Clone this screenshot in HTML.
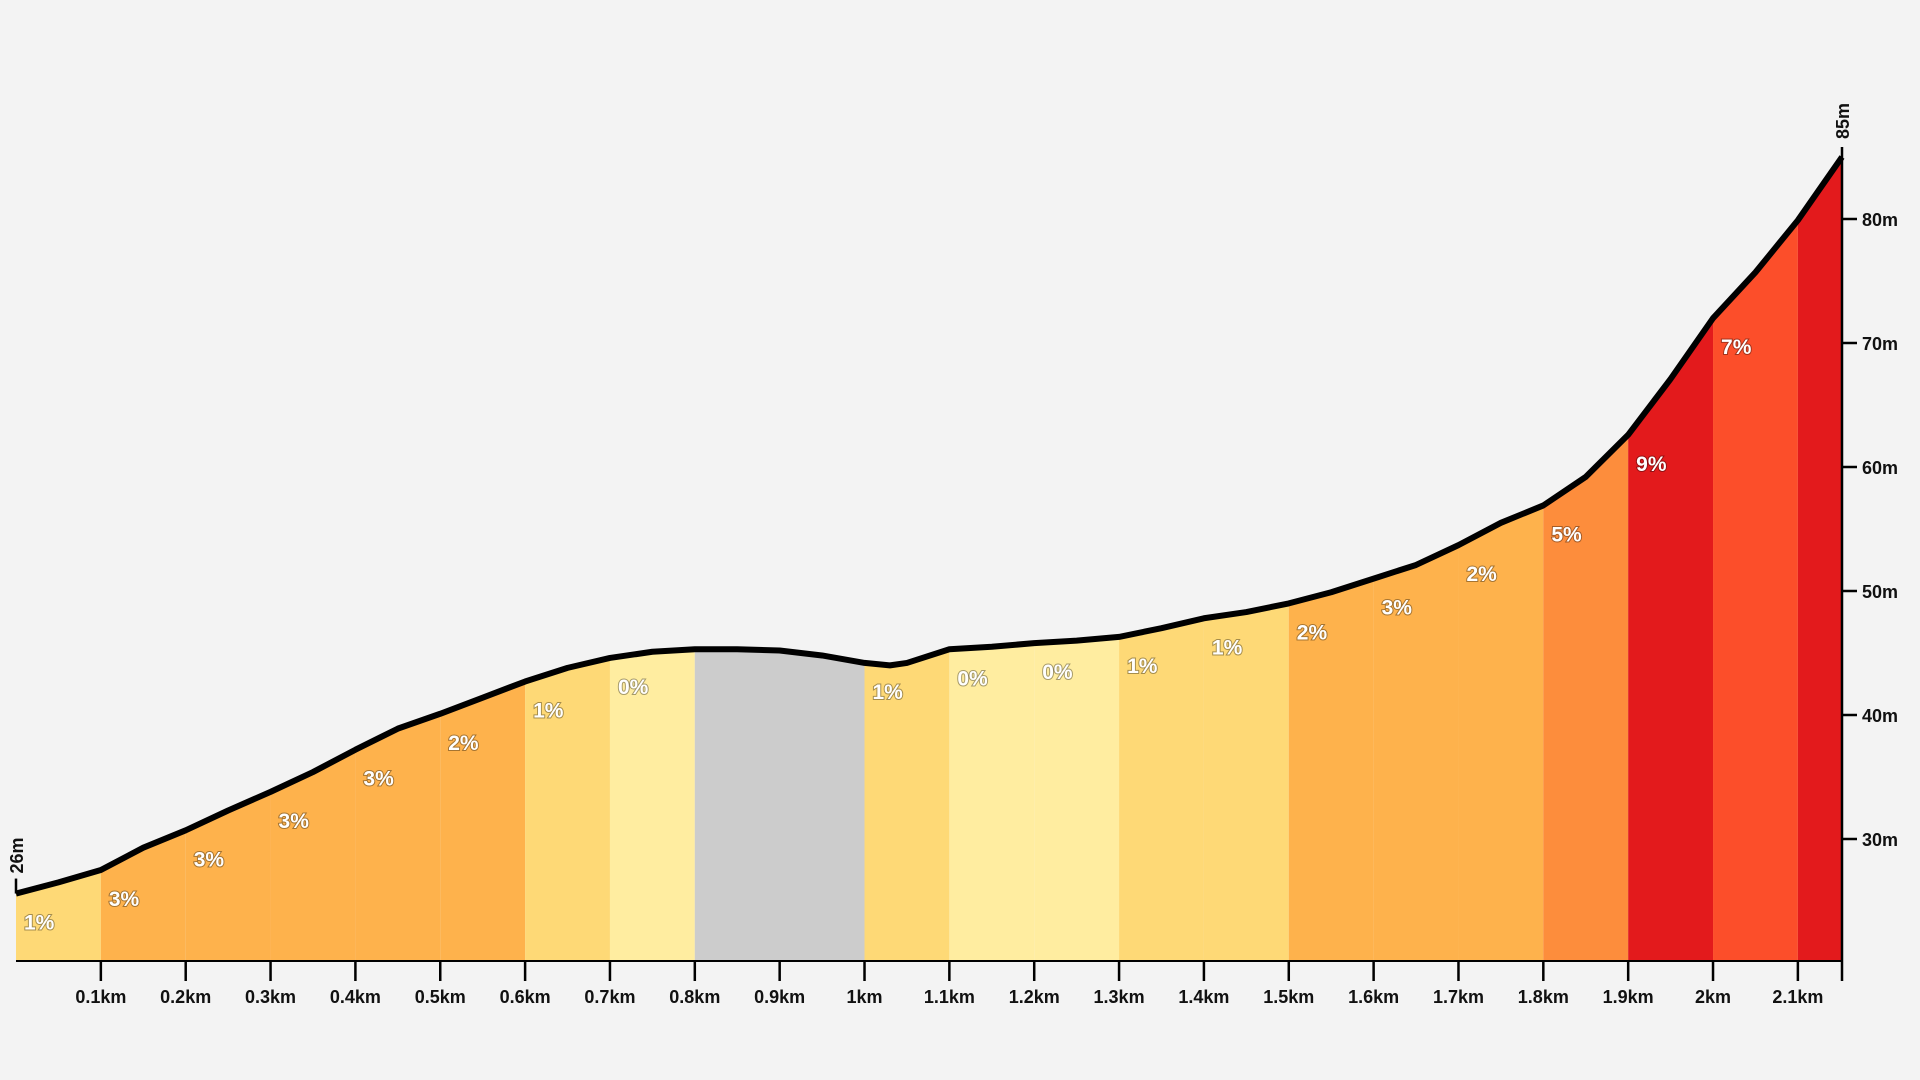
<!DOCTYPE html>
<html><head><meta charset="utf-8">
<style>
html,body{margin:0;padding:0;background:#f3f3f3;}
svg{display:block;font-family:"Liberation Sans",sans-serif;font-weight:bold;}
.lbl{fill:#fff;font-size:21px;paint-order:stroke;stroke:rgba(0,0,0,0.35);stroke-width:2px;}
.tk{fill:#111;font-size:18px;}
</style></head>
<body>
<svg id="chart" width="1920" height="1080" viewBox="0 0 1920 1080">
<g id="segs"></g>
<g id="line"></g>
<g id="labels"></g>
<g id="axes"></g>
</svg>
<script>
const distKm=[0,0.05,0.1,0.15,0.2,0.25,0.3,0.35,0.4,0.45,0.5,0.55,0.6,0.65,0.7,0.75,0.8,0.85,0.9,0.95,1.0,1.03,1.05,1.1,1.15,1.2,1.25,1.3,1.35,1.4,1.45,1.5,1.55,1.6,1.65,1.7,1.75,1.8,1.85,1.9,1.95,2.0,2.05,2.1,2.152];
const elevM=[25.6,26.5,27.5,29.3,30.7,32.3,33.8,35.4,37.2,38.9,40.1,41.4,42.7,43.8,44.6,45.1,45.3,45.3,45.2,44.8,44.2,44.0,44.2,45.3,45.5,45.8,46.0,46.3,47.0,47.8,48.3,49.0,49.9,51.0,52.1,53.7,55.5,56.9,59.2,62.6,67.1,72.0,75.7,79.9,85.0];
const segStart=[0,0.1,0.2,0.3,0.4,0.5,0.6,0.7,0.8,1.0,1.1,1.2,1.3,1.4,1.5,1.6,1.7,1.8,1.9,2.0,2.1];
const segEnd=[0.1,0.2,0.3,0.4,0.5,0.6,0.7,0.8,1.0,1.1,1.2,1.3,1.4,1.5,1.6,1.7,1.8,1.9,2.0,2.1,2.152];
const segGrade=["1%","3%","3%","3%","3%","2%","1%","0%","","1%","0%","0%","1%","1%","2%","3%","2%","5%","9%","7%",""];
const segColor=["#fed976","#feb24c","#feb24c","#feb24c","#feb24c","#feb24c","#fed976","#ffeda0","#cccccc","#fed976","#ffeda0","#ffeda0","#fed976","#fed976","#feb24c","#feb24c","#feb24c","#fd8d3c","#e31a1c","#fc4e2a","#e31a1c"];
const xTicks=[0.1,0.2,0.3,0.4,0.5,0.6,0.7,0.8,0.9,1,1.1,1.2,1.3,1.4,1.5,1.6,1.7,1.8,1.9,2,2.1];
const xTickLabels=["0.1km","0.2km","0.3km","0.4km","0.5km","0.6km","0.7km","0.8km","0.9km","1km","1.1km","1.2km","1.3km","1.4km","1.5km","1.6km","1.7km","1.8km","1.9km","2km","2.1km"];
const yTicks=[30,40,50,60,70,80];
const yTickLabels=["30m","40m","50m","60m","70m","80m"];

const NS="http://www.w3.org/2000/svg";
const X0=16,X1=1842,BASE=961;
const dMax=distKm[distKm.length-1];
function xs(d){return X0+(X1-X0)*d/dMax;}
function ys(e){return 219+(80-e)*12.4;}
function elevAt(d){
  for(let i=1;i<distKm.length;i++){
    if(d<=distKm[i]){const t=(d-distKm[i-1])/(distKm[i]-distKm[i-1]);return elevM[i-1]+t*(elevM[i]-elevM[i-1]);}
  }
  return elevM[elevM.length-1];
}
function mk(tag,attrs,parent){const e=document.createElementNS(NS,tag);for(const k in attrs)e.setAttribute(k,attrs[k]);parent.appendChild(e);return e;}

const segG=document.getElementById('segs');
const lblG=document.getElementById('labels');
for(let s=0;s<segStart.length;s++){
  let pts=[[xs(segStart[s]),BASE],[xs(segStart[s]),ys(elevAt(segStart[s]))]];
  for(let i=0;i<distKm.length;i++){if(distKm[i]>segStart[s]&&distKm[i]<segEnd[s])pts.push([xs(distKm[i]),ys(elevM[i])]);}
  pts.push([xs(segEnd[s]),ys(elevAt(segEnd[s]))],[xs(segEnd[s]),BASE]);
  const p=mk('polygon',{points:pts.map(q=>q.join(',')).join(' '),fill:segColor[s]},segG);
  
  
  if(segGrade[s]){
    const t=mk('text',{x:xs(segStart[s])+8,y:ys(elevAt(segStart[s]))+36,class:'lbl'},lblG);
    t.textContent=segGrade[s];
    
    
  }
}
const lineG=document.getElementById('line');
const path=mk('polyline',{points:distKm.map((d,i)=>xs(d)+','+ys(elevM[i])).join(' '),fill:'none',stroke:'#000','stroke-width':6,'stroke-linejoin':'round'},lineG);



const ax=document.getElementById('axes');
const xa=mk('line',{x1:X0,y1:BASE,x2:X1,y2:BASE,stroke:'#000','stroke-width':2},ax);


xTicks.forEach((d,i)=>{
  const l=mk('line',{x1:xs(d),y1:BASE,x2:xs(d),y2:BASE+20,stroke:'#000','stroke-width':2.5},ax);
  
  
  const t=mk('text',{x:xs(d),y:BASE+42,'text-anchor':'middle',class:'tk'},ax);
  t.textContent=xTickLabels[i];
  
  
});
const endY=ys(elevM[elevM.length-1]);
const ya=mk('line',{x1:X1,y1:endY-10,x2:X1,y2:BASE+20,stroke:'#000','stroke-width':2.5},ax);


yTicks.forEach((e,i)=>{
  const l=mk('line',{x1:X1,y1:ys(e),x2:X1+15,y2:ys(e),stroke:'#000','stroke-width':2.5},ax);
  
  
  const t=mk('text',{x:X1+20,y:ys(e)+7,class:'tk'},ax);
  t.textContent=yTickLabels[i];
  
  
});
// start / end markers
const sY=ys(elevM[0]);
const sl=mk('line',{x1:X0,y1:sY,x2:X0,y2:sY-15,stroke:'#000','stroke-width':2.5},ax);


const st=mk('text',{x:X0+7,y:sY-20,transform:`rotate(-90 ${X0+7} ${sY-20})`,class:'tk','font-size':'17'},ax);
st.textContent=Math.round(elevM[0])+'m';


const et=mk('text',{x:X1+7,y:endY-18,transform:`rotate(-90 ${X1+7} ${endY-18})`,class:'tk','font-size':'17'},ax);
et.textContent=Math.round(elevM[elevM.length-1])+'m';


</script>
</body></html>
